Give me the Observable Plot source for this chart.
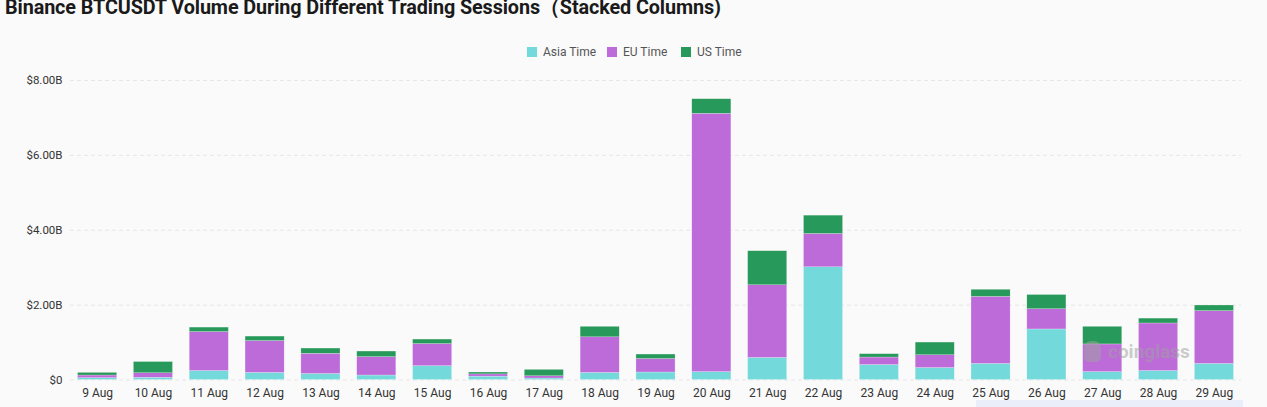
<!DOCTYPE html>
<html>
<head>
<meta charset="utf-8">
<script src="https://cdn.jsdelivr.net/npm/d3@7"></script>
<script src="https://cdn.jsdelivr.net/npm/@observablehq/plot@0.6"></script>
<style>
  html, body { margin: 0; padding: 0; background: #fafafa; overflow: hidden; }
  #wrap { position: relative; width: 1267px; height: 407px; font-family: Roboto, "Noto Sans", sans-serif; }
  #head { position: relative; height: 65px; }
  #title { position: absolute; left: 5px; top: -6px; font: bold 19.8px Roboto, "Liberation Sans", sans-serif; color: #1a1a1a; white-space: nowrap; letter-spacing: -0.1px; }
  #legend { position: absolute; top: 45px; left: 0; width: 1267px; font-size: 12px; color: #555; }
  .item { position: absolute; display: flex; align-items: center; white-space: nowrap; }
  .sw { width: 10px; height: 10px; margin-right: 6px; }
  #wm { position: absolute; left: 1108px; top: 340px; font: bold 19px Roboto, sans-serif; color: rgba(160,160,160,0.55); }
  #wmlogo { position: absolute; left: 1084px; top: 341px; width: 17px; height: 21px; border-radius: 7px 7px 5px 5px; background: rgba(160,160,160,0.55); }
  #strip { position: absolute; left: 976px; top: 400px; width: 267px; height: 7px; background: #eaedfa; }
</style>
</head>
<body>
<div id="wrap">
  <div id="head">
    <div id="title">Binance BTCUSDT Volume During Different Trading Sessions（Stacked Columns)</div>
    <div id="legend"></div>
  </div>
  <div id="chart"></div>
  <div id="wmlogo"></div>
  <div id="wm">coinglass</div>
  <div id="strip"></div>
</div>
<script>
const dates = ["9 Aug","10 Aug","11 Aug","12 Aug","13 Aug","14 Aug","15 Aug","16 Aug","17 Aug","18 Aug","19 Aug","20 Aug","21 Aug","22 Aug","23 Aug","24 Aug","25 Aug","26 Aug","27 Aug","28 Aug","29 Aug"];
// volumes in billions USD
const asiaTime = [0.05,0.06,0.24,0.19,0.16,0.12,0.37,0.09,0.04,0.19,0.20,0.21,0.59,3.01,0.40,0.32,0.43,1.35,0.21,0.24,0.43];
const euTime   = [0.07,0.12,1.04,0.85,0.54,0.49,0.59,0.06,0.06,0.95,0.36,6.90,1.94,0.89,0.20,0.34,1.79,0.54,0.74,1.27,1.41];
const usTime   = [0.07,0.30,0.12,0.12,0.14,0.15,0.12,0.05,0.17,0.28,0.12,0.39,0.91,0.49,0.09,0.34,0.19,0.38,0.47,0.13,0.15];
const seriesNames = ["Asia Time","EU Time","US Time"];
const seriesColors = ["#74d9db","#bd6bd9","#27995a"];
const yTicks = [0,2,4,6,8];

const seriesValues = [asiaTime, euTime, usTime];
const rows = [];
dates.forEach((d, i) => {
  seriesNames.forEach((s, j) => rows.push({date: d, series: s, value: seriesValues[j][i]}));
});

// legend
const legendX = [527, 607, 681];
const legend = document.getElementById("legend");
seriesNames.forEach((s, j) => {
  const it = document.createElement("div");
  it.className = "item";
  it.style.left = legendX[j] + "px";
  it.innerHTML = `<div class="sw" style="background:${seriesColors[j]}"></div><span>${s}</span>`;
  legend.appendChild(it);
});

const fmt = d => d === 0 ? "$0" : "$" + d.toFixed(2) + "B";

const chart = Plot.plot({
  width: 1267,
  height: 342,
  marginTop: 15,
  marginBottom: 27.5,
  marginLeft: 70,
  marginRight: 26,
  style: {background: "#fafafa", fontFamily: "Roboto, 'Noto Sans', sans-serif", color: "#333"},
  x: {domain: dates, paddingInner: 0.3, paddingOuter: 0.135, round: false, label: null, tickSize: 0, tickPadding: 8},
  y: {domain: [0, 8], ticks: yTicks, label: null, tickSize: 0, tickPadding: 8, tickFormat: fmt},
  color: {domain: seriesNames, range: seriesColors},
  marks: [
    Plot.gridY(yTicks, {stroke: "#e6e6e6", strokeOpacity: 1, strokeDasharray: "4,3"}),
    Plot.axisX({tickSize: 0, tickPadding: 8, fontSize: 12, fill: "#333"}),
    Plot.axisY({ticks: yTicks, tickSize: 0, tickPadding: 8, tickFormat: fmt, fontSize: 11.5, fill: "#333"}),
    Plot.barY(rows, Plot.stackY({x: "date", y: "value", fill: "series", order: seriesNames, stroke: "#fafafa", strokeWidth: 0.4, strokeOpacity: 0.6}))
  ]
});
document.getElementById("chart").appendChild(chart);
</script>
</body>
</html>
